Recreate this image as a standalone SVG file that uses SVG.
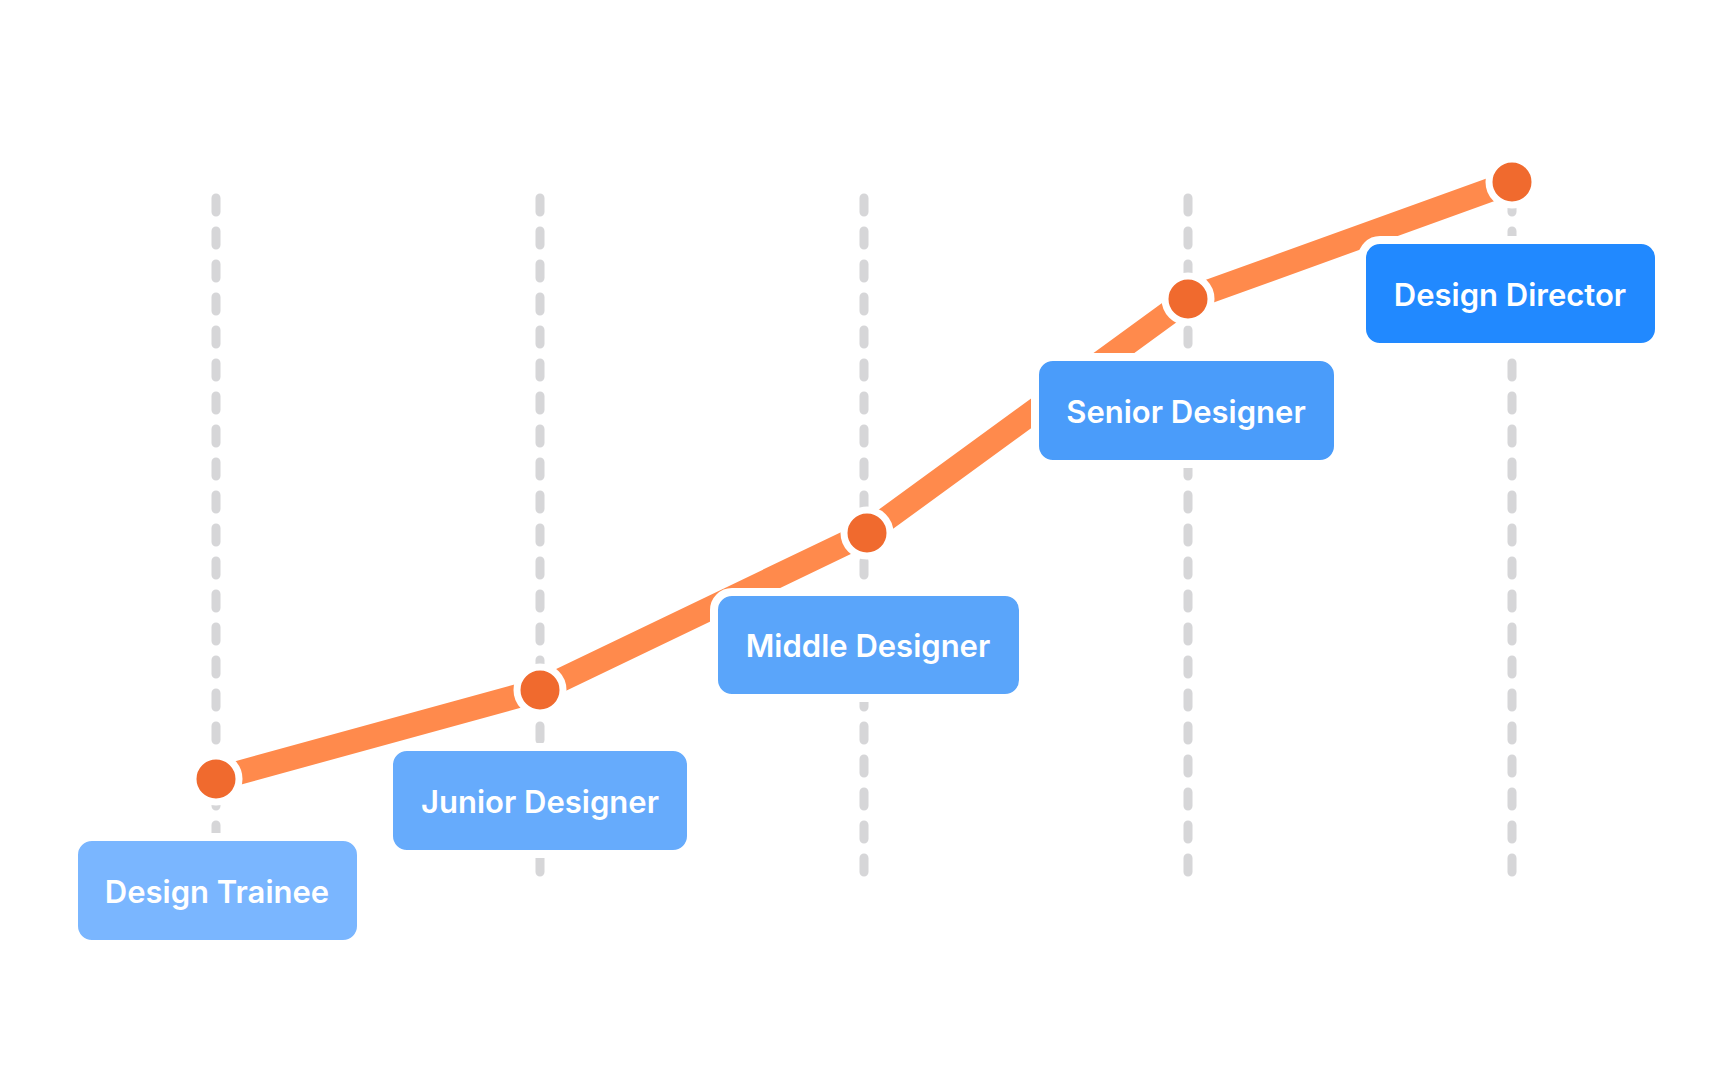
<svg xmlns="http://www.w3.org/2000/svg" width="1728" height="1080" viewBox="0 0 1728 1080">
<style>
.g{stroke:#D6D6D8;stroke-width:9;stroke-linecap:round;stroke-dasharray:14 19;fill:none}
.b{stroke:#fff;stroke-width:8}
.t{font-family:Inter,"Noto Sans",sans-serif;font-weight:600;font-size:31px;fill:#fff;text-anchor:middle;dominant-baseline:central}
.d{fill:#F06A2E;stroke:#fff;stroke-width:7}
</style>
<rect width="1728" height="1080" fill="#fff"/>
<g id="grid">
<line class="g" x1="216" y1="198" x2="216" y2="887"/>
<line class="g" x1="540" y1="198" x2="540" y2="887"/>
<line class="g" x1="864" y1="198" x2="864" y2="887"/>
<line class="g" x1="1188" y1="198" x2="1188" y2="887"/>
<line class="g" x1="1512" y1="198" x2="1512" y2="887"/>
</g>
<g id="connectors">
<polyline points="216,779 540,690 867,533 1188,299 1512,182" fill="none" stroke="#FF8A4C" stroke-width="24" stroke-linejoin="miter"/>
</g>
<g id="dots">
<circle class="d" cx="216" cy="779" r="23"/>
<circle class="d" cx="540" cy="690" r="23"/>
<circle class="d" cx="867" cy="533" r="23"/>
<circle class="d" cx="1188" cy="299" r="23"/>
<circle class="d" cx="1512" cy="182" r="23"/>
</g>
<g id="trainee"><rect class="b" x="74" y="837" width="287" height="107" rx="18" fill="#7AB6FF"/><text class="t" x="217" y="891">Design Trainee</text></g>
<g id="junior"><rect class="b" x="389" y="747" width="302" height="107" rx="18" fill="#66ABFC"/><text class="t" x="540" y="801">Junior Designer</text></g>
<g id="middle"><rect class="b" x="714" y="592" width="309" height="106" rx="18" fill="#5AA5FA"/><text class="t" x="868" y="645">Middle Designer</text></g>
<g id="senior"><rect class="b" x="1035" y="357" width="303" height="107" rx="18" fill="#4A9CFA"/><text class="t" x="1186" y="411">Senior Designer</text></g>
<g id="director"><rect class="b" x="1362" y="240" width="297" height="107" rx="18" fill="#2189FF"/><text class="t" x="1510" y="294">Design Director</text></g>
</svg>
